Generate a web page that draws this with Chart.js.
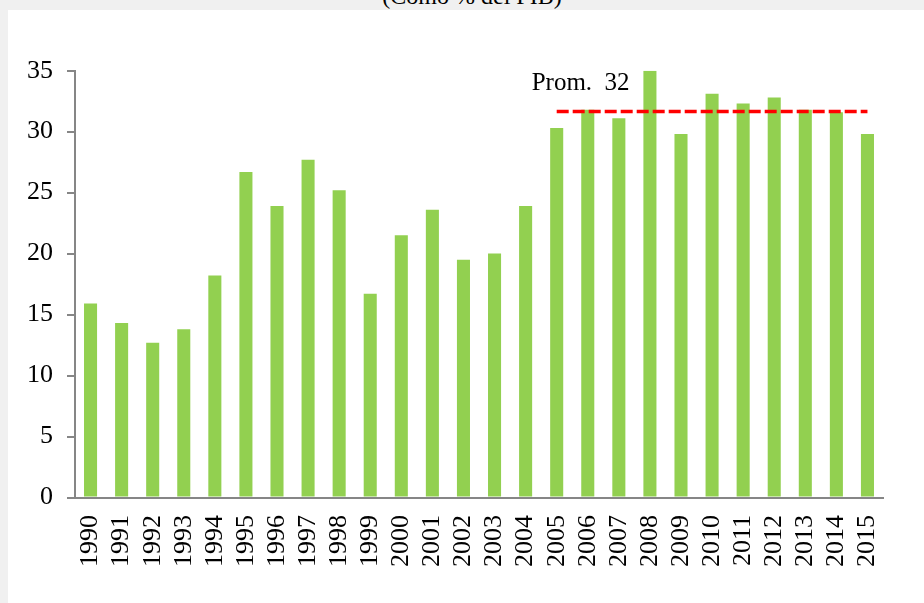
<!DOCTYPE html>
<html>
<head>
<meta charset="utf-8">
<script src="https://cdn.jsdelivr.net/npm/chart.js@4.4.1/dist/chart.umd.min.js"></script>
<style>
    body{
        margin:0;
        background:#f0f0f0;
        width:924px;
        height:603px;
        overflow:hidden;
        position:relative;
    }
    .title{
        position:absolute;
        left:0;
        width:944px;
        top:-16px;
        text-align:center;
        font-family:"Liberation Serif","Times New Roman",serif;
        font-size:24px;
        line-height:24px;
        color:#000;
        z-index:2;
    }
    .panel{
        position:absolute;
        left:8px;
        top:10px;
        width:916px;
        height:593px;
        background:#fff;
    }
</style>
</head>
<body>
<div class="title">(Como % del PIB)</div>
<div class="panel">
    <canvas id="myChart" width="916" height="593"></canvas>
</div>
<script>
// anios
var years=['1990','1991','1992','1993','1994','1995','1996','1997','1998','1999','2000','2001','2002',
    '2003','2004','2005','2006','2007','2008','2009','2010','2011','2012','2013','2014','2015']
// valores (% del PIB)
var values=[15.9,14.3,12.7,13.8,18.2,26.7,23.9,27.7,25.2,16.7,21.5,23.6,19.5,
    20.0,23.9,30.3,31.8,31.1,35.0,29.8,33.1,32.3,32.8,31.8,31.6,29.8]
// promedio 2005-2015
var avgValue=31.65
var avgFrom='2005'
var avgLabel='Prom.  32'
var yTicks=[0,5,10,15,20,25,30,35]

var avgLine=years.map(function(y,i){
    return i>=years.indexOf(avgFrom) ? avgValue : null
})

var serif='"Liberation Serif","Times New Roman",serif'
var axisGray='#868686'

// texto del promedio encima de la linea
var promLabel={
    id:'promLabel',
    afterDatasetsDraw:function(chart){
        var ctx=chart.ctx
        var x=chart.scales.x.getPixelForValue(years.indexOf(avgFrom))-25
        var y=chart.scales.y.getPixelForValue(avgValue)-22
        ctx.save()
        ctx.font='25px '+serif
        ctx.fillStyle='#000'
        ctx.textBaseline='alphabetic'
        ctx.textAlign='left'
        ctx.fillText(avgLabel,x,y)
        ctx.restore()
    }
}

var ctx=document.getElementById('myChart').getContext('2d')
var myChart=new Chart(ctx,{
    type:'bar',
    data:{
        labels:years,
        datasets:[{
            type:'line',
            data:avgLine,
            borderColor:'#ff0000',
            borderWidth:3.5,
            borderDash:[12,4],
            pointRadius:0,
            fill:false,
            spanGaps:false,
            order:0
        },{
            data:values,
            backgroundColor:'#92d050',
            barPercentage:0.42,
            categoryPercentage:1,
            order:1
        }]
    },
    options:{
        responsive:false,
        animation:false,
        layout:{padding:{top:60.7,right:41,left:0,bottom:0}},
        plugins:{legend:{display:false},tooltip:{enabled:false}},
        scales:{
            x:{
                grid:{display:false,drawTicks:false},
                border:{color:axisGray,width:2},
                ticks:{
                    color:'#000',
                    font:{family:serif,size:26},
                    minRotation:90,
                    maxRotation:90,
                    padding:17.5,
                    autoSkip:false
                },
                afterFit:function(scale){scale.height=105.5}
            },
            y:{
                min:0,
                max:35,
                afterBuildTicks:function(scale){
                    scale.ticks=yTicks.map(function(v){return {value:v}})
                },
                grid:{drawOnChartArea:false,tickLength:8,color:axisGray,lineWidth:2},
                border:{color:axisGray,width:2},
                ticks:{
                    color:'#000',
                    font:{family:serif,size:26},
                    padding:14
                },
                afterFit:function(scale){scale.width=67}
            }
        }
    },
    plugins:[promLabel]
})
</script>
</body>
</html>
